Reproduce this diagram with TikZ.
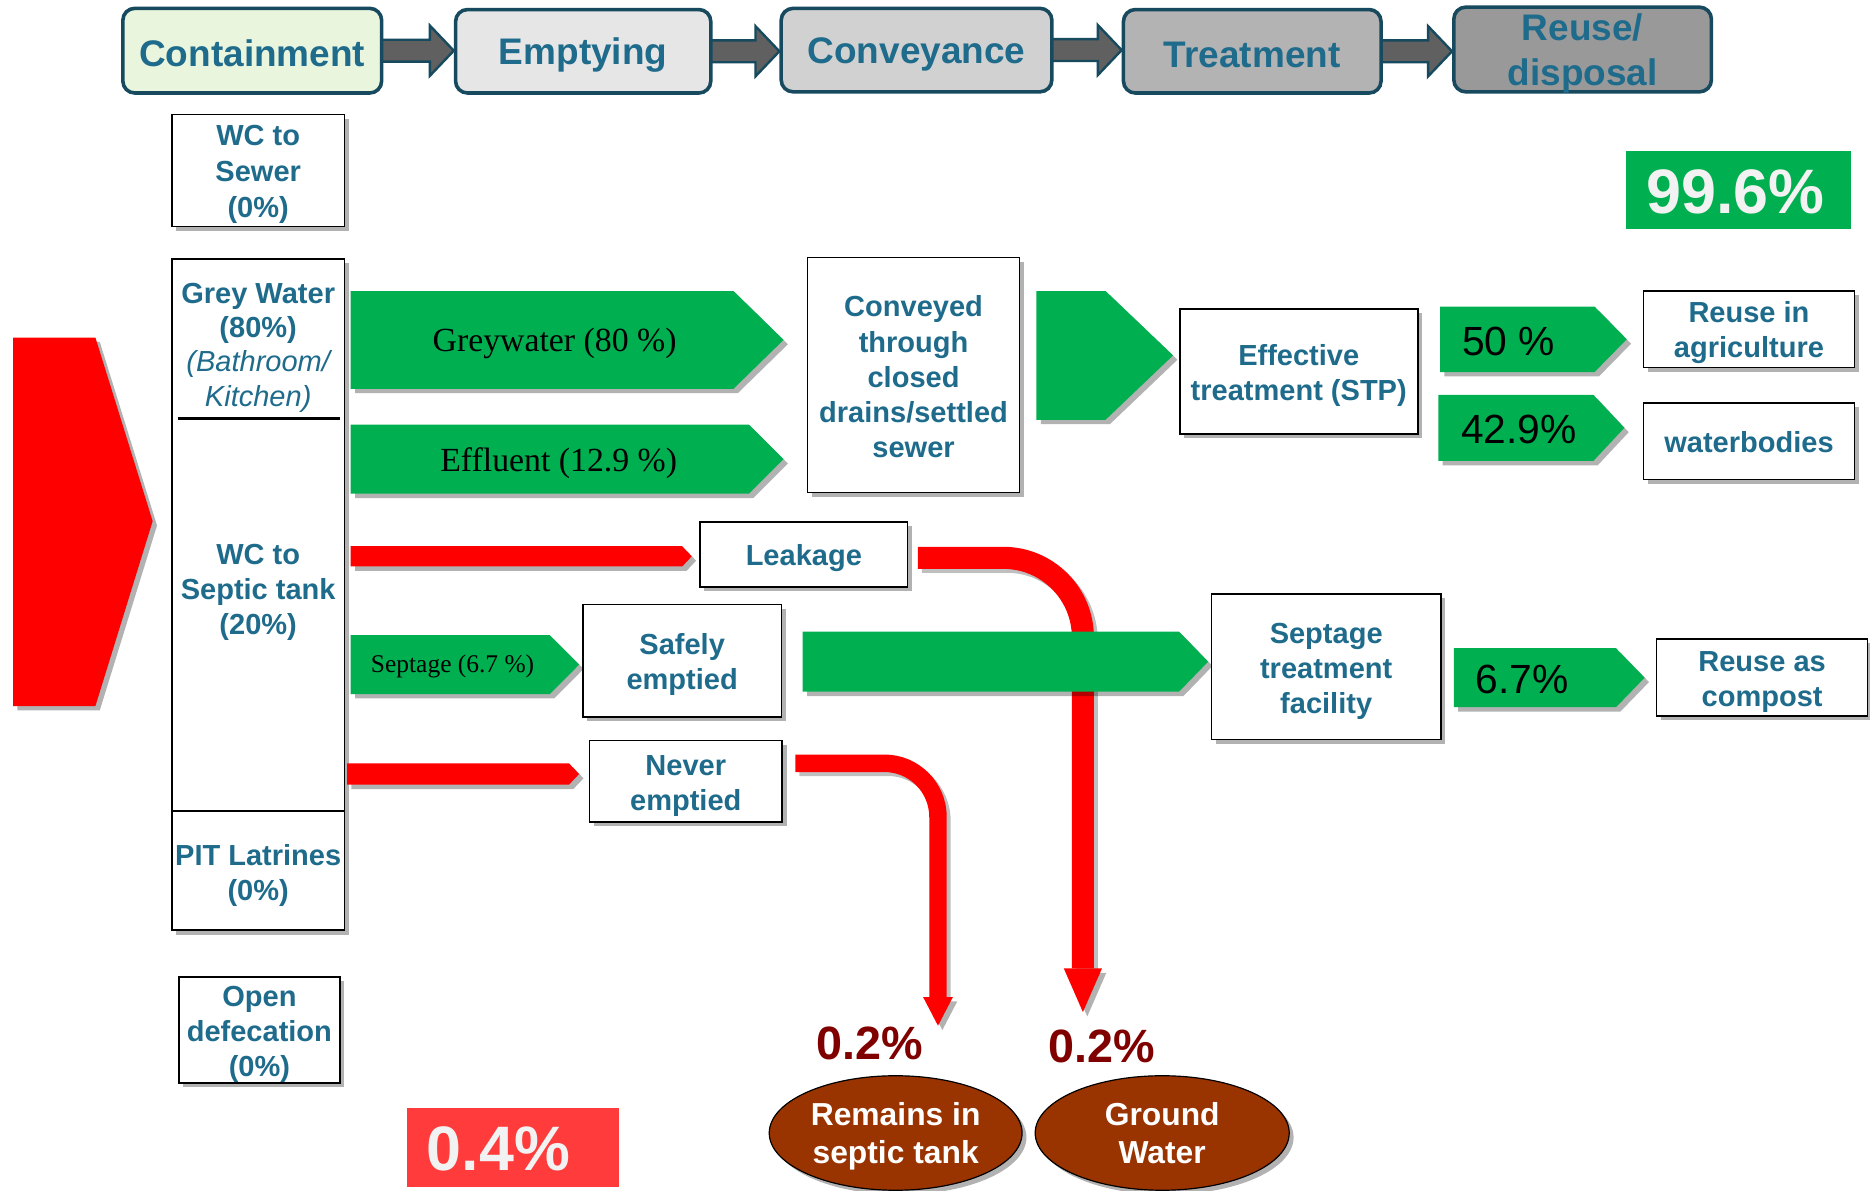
\documentclass[tikz,border=0pt]{standalone}
\usepackage{fontspec}
\setmainfont{Liberation Sans}
\newfontfamily\serifb{Liberation Serif}
\usetikzlibrary{shadows,calc,backgrounds,shapes.geometric}
\definecolor{tealtxt}{RGB}{31,107,140}
\definecolor{stageb}{RGB}{23,74,94}
\definecolor{gr}{RGB}{0,176,80}
\definecolor{rd}{RGB}{255,0,0}
\definecolor{lrd}{RGB}{255,59,59}
\definecolor{brn}{RGB}{153,51,0}
\definecolor{dred}{RGB}{128,0,0}
\definecolor{arrg}{RGB}{96,96,96}
\definecolor{offw}{RGB}{242,242,242}
\definecolor{c1}{RGB}{234,245,221}
\definecolor{c2}{RGB}{230,230,230}
\definecolor{c3}{RGB}{209,209,209}
\definecolor{c4}{RGB}{179,179,179}
\definecolor{c5}{RGB}{153,153,153}
\newcommand\garrow[5]{\fill[gr, shad] (#1,#2) -- (#3,#2) -- (#4,{(#2+#5)/2}) -- (#3,#5) -- (#1,#5) -- cycle;}
\newcommand\stagearrow[2]{\path[draw=stageb, fill=arrg, line width=1.2pt] let \p1=(#1.east), \p2=(#2.west) in
  (\x1-1pt,\y1+5.5pt) -- (\x2-12pt,\y1+5.5pt) -- (\x2-12pt,\y1+12.6pt) -- (\x2,\y1) --
  (\x2-12pt,\y1-12.6pt) -- (\x2-12pt,\y1-5.5pt) -- (\x1-1pt,\y1-5.5pt) -- cycle;}
\newcommand\redcurve[4]{%
  \draw[black, opacity=0.25, line width=#3, rounded corners=#4, transform canvas={shift={(2pt,-2pt)}}] (#1) -| (#2);
  \draw[rd, line width=#3, rounded corners=#4] (#1) -| (#2);}
\begin{document}
\begin{tikzpicture}[x=0.6pt, y=-0.6pt,
  shad/.style={drop shadow={opacity=0.3, shadow xshift=2.2pt, shadow yshift=-2.2pt, fill=black}},
  stage/.style={draw=stageb, line width=1.8pt, rounded corners=6pt, inner sep=0pt},
  stxt/.style={inner sep=0pt, align=center, text=tealtxt, font=\bfseries\fontsize{18.6}{22.2}\selectfont, yshift=-2pt},
  wbox/.style={draw=black, line width=0.8pt, fill=white, shad, inner sep=0pt},
  wtxt/.style={inner sep=0pt, align=center, text=tealtxt, font=\bfseries\fontsize{14.6}{17.7}\selectfont, yshift=-1.9pt},
  ctxt/.style={inner sep=0pt, align=center, text=tealtxt, font=\bfseries\fontsize{14.6}{17.3}\selectfont},
  gtxt/.style={inner sep=0pt, text=black, font=\serifb\fontsize{17}{20}\selectfont},
  sgtxt/.style={inner sep=0pt, text=black, font=\serifb\fontsize{12.8}{15}\selectfont},
  ptxt/.style={inner sep=0pt, text=black, font=\fontsize{20.5}{24}\selectfont},
  bigp/.style={inner sep=0pt, text=offw, font=\bfseries\fontsize{31.6}{36}\selectfont},
  redp/.style={inner sep=0pt, text=dred, font=\bfseries\fontsize{23.5}{28}\selectfont},
  ell/.style={ellipse, draw=black, line width=0.6pt, fill=brn, shad, inner sep=0pt},
  etxt/.style={inner sep=0pt, align=center, text=white, font=\bfseries\fontsize{16}{19.2}\selectfont},
]
\useasboundingbox (0,0) rectangle (1568,998);

% stage boxes
\node[stage, fill=c1, minimum width=130.2pt, minimum height=42.6pt, label={[stxt, yshift=0.8pt]center:Containment}] (cont) at (211.5,42.5) {};
\node[stage, fill=c2, minimum width=128.4pt, minimum height=42pt, label={[stxt]center:Emptying}] (empt) at (489,43) {};
\node[stage, fill=c3, minimum width=136.2pt, minimum height=42pt, label={[stxt]center:Conveyance}] (conv) at (768.5,42) {};
\node[stage, fill=c4, minimum width=129.6pt, minimum height=42pt, label={[stxt]center:Treatment}] (treat) at (1050,43) {};
\node[stage, fill=c5, minimum width=129.6pt, minimum height=42.6pt, label={[stxt]center:{Reuse/\\disposal}}] (reuse) at (1327,41.5) {};

\begin{scope}[on background layer]
  \fill[white] (0,0) rectangle (1568,998);
  \stagearrow{cont}{empt}
  \stagearrow{empt}{conv}
  \stagearrow{conv}{treat}
  \stagearrow{treat}{reuse}
\end{scope}

% big red input arrow
\fill[rd, shad] (11,283) -- (80,283) -- (128,437) -- (80,592) -- (11,592) -- cycle;

% containment column
\node[wbox, minimum width=87pt, minimum height=56.4pt, label={[wtxt]center:{WC to\\[0.3pt]Sewer\\[0.3pt](0\%)}}] (wcsewer) at (216.5,143) {};
\node[wbox, minimum width=87pt, minimum height=277.8pt] (col) at (216.5,448.5) {};
\draw[line width=1.2pt] (149,351) -- (285,351);
\node[ctxt] (greyw) at (216.5,291.5) {Grey Water\\(80\%)\\{\mdseries\itshape (Bathroom/}\\{\mdseries\itshape Kitchen)}};
\node[ctxt, font=\bfseries\fontsize{14.6}{17.7}\selectfont] (wcsep) at (216.5,496.5) {WC to\\Septic tank\\(20\%)};
\node[wbox, minimum width=87pt, minimum height=60pt, label={[wtxt, yshift=-0.5pt]center:{PIT Latrines\\(0\%)}}] (pit) at (216.5,730) {};
\node[wbox, minimum width=81pt, minimum height=53.4pt, label={[wtxt, yshift=-0.5pt]center:{Open\\defecation\\(0\%)}}] (opendef) at (217.5,863.5) {};

% percentage boxes
\node[fill=gr, minimum width=113.4pt, minimum height=39pt, inner sep=0pt] (p996) at (1457.5,159.5) {};
\node[bigp] (t996) at (1455,160.5) {99.6\%};
\node[fill=lrd, minimum width=106.8pt, minimum height=39.6pt, inner sep=0pt] (p04) at (430,962) {};
\node[bigp] (t04) at (418,963.5) {0.4\%};

% thin red arrows
\fill[rd, shad] (294,458) -- (572,458) -- (580,466.5) -- (572,475) -- (294,475) -- cycle;
\fill[rd, shad] (291,640) -- (477,640) -- (485.6,649) -- (477,658) -- (291,658) -- cycle;

% boxes in the middle
\node[wbox, minimum width=104.4pt, minimum height=32.7pt, label={[wtxt]center:Leakage}] (leak) at (674,465) {};
\node[wbox, minimum width=100pt, minimum height=56.7pt, label={[wtxt]center:{Safely\\emptied}}] (safely) at (572,554) {};
\node[wbox, minimum width=97pt, minimum height=40.8pt, label={[wtxt, yshift=-0.6pt]center:{Never\\emptied}}] (never) at (575,655) {};

% curved red arrows
\coordinate (lk1) at ($(leak.east)+(8,2.75)$);
\coordinate (lk2) at (908,812);
\redcurve{lk1}{lk2}{11.1pt}{40pt}
\fill[rd, shad] (892,812) -- (924,812) -- (908,848.6) -- cycle;
\coordinate (nv1) at ($(never.east)+(10.4,-15)$);
\coordinate (nv2) at (786.5,836);
\redcurve{nv1}{nv2}{8.8pt}{27pt}
\fill[rd, shad] (774,836) -- (799,836) -- (786.5,860) -- cycle;

% green arrows
\garrow{294}{244}{615}{657}{326}
\garrow{294}{356}{628}{657}{414}
\garrow{294}{532.5}{461}{485.6}{582}
\garrow{869}{244}{927}{983.6}{352}
\garrow{673}{529.6}{988.6}{1013}{580}
\garrow{1207.5}{257}{1337}{1364}{312}
\garrow{1206}{331}{1336}{1362}{386.5}
\garrow{1219}{543.5}{1355}{1379}{593}

\node[gtxt] (tgw) at (465,288) {Greywater (80 \%)};
\node[gtxt] (teff) at (468.5,388) {Effluent (12.9 \%)};
\node[sgtxt] (tsep) at (379.5,559) {Septage (6.7 \%)};
\node[ptxt] (t50) at (1265,286.5) {50 \%};
\node[ptxt] (t429) at (1273.5,360.5) {42.9\%};
\node[ptxt] (t67) at (1276.5,569.5) {6.7\%};

% right side boxes
\node[wbox, minimum width=106.8pt, minimum height=118.2pt, label={[wtxt, yshift=1pt]center:{Conveyed\\through\\closed\\drains/settled\\sewer}}] (conveyed) at (766,314.5) {};
\node[wbox, minimum width=119.7pt, minimum height=63pt, label={[wtxt]center:{Effective\\treatment (STP)}}] (eff) at (1089,311.5) {};
\node[wbox, minimum width=115.5pt, minimum height=73.2pt, label={[wtxt, yshift=-0.5pt]center:{Septage\\treatment\\facility}}] (septf) at (1112,559) {};
\node[wbox, minimum width=106.2pt, minimum height=38.4pt, label={[wtxt]center:{Reuse in\\agriculture}}] (agri) at (1466.5,276) {};
\node[wbox, minimum width=106.2pt, minimum height=38.4pt, label={[wtxt, yshift=1.3pt]center:waterbodies}] (water) at (1466.5,370) {};
\node[wbox, minimum width=106.2pt, minimum height=38.7pt, label={[wtxt, yshift=-0.5pt]center:{Reuse as\\compost}}] (compost) at (1477.5,568) {};

% outcomes
\node[redp] (p1) at (729,875) {0.2\%};
\node[redp] (p2) at (924,877.5) {0.2\%};
\node[ell, minimum width=127.2pt, minimum height=57.6pt, label={[etxt, yshift=-1.6pt]center:{Remains in\\septic tank}}] (rem) at (751,950) {};
\node[ell, minimum width=127.8pt, minimum height=57.6pt, label={[etxt]center:{Ground\\Water}}] (ground) at (974.5,950) {};
\end{tikzpicture}
\end{document}
